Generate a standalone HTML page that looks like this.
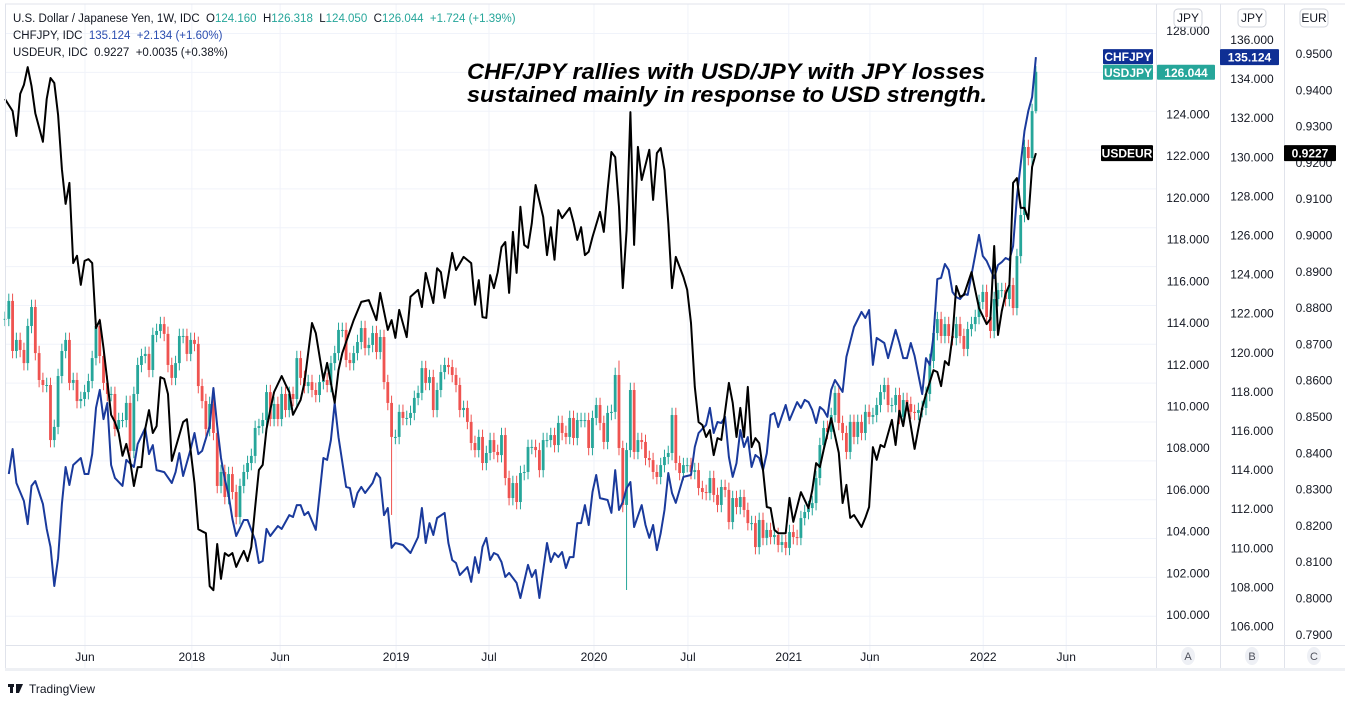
<!DOCTYPE html>
<html><head><meta charset="utf-8">
<style>
html,body{margin:0;padding:0;background:#fff;width:1345px;height:703px;overflow:hidden;font-family:"Liberation Sans",sans-serif}
svg text{font-family:"Liberation Sans",sans-serif}
.pre{white-space:pre}
</style></head>
<body>
<svg id="chart" width="1345" height="703" viewBox="0 0 1345 703" xmlns="http://www.w3.org/2000/svg">
<g id="grid"></g>
<g id="candles"></g>
<g id="lines"></g>
<g id="frame">
<line x1="5" y1="4" x2="1345" y2="4" stroke="#e0e3eb"/>
<line x1="5.5" y1="4" x2="5.5" y2="670" stroke="#e0e3eb"/>
<line x1="1156.5" y1="4" x2="1156.5" y2="670" stroke="#e0e3eb"/>
<line x1="1220.5" y1="4" x2="1220.5" y2="670" stroke="#e0e3eb"/>
<line x1="1284.5" y1="4" x2="1284.5" y2="670" stroke="#e0e3eb"/>
<line x1="5" y1="645.5" x2="1345" y2="645.5" stroke="#e0e3eb"/>
<rect x="5" y="668" width="1340" height="3" fill="#eef0f4"/>
</g>
<g id="axes"></g>
<g id="timeaxis"></g>
<g font-size="11.5">
<text class="pre" x="13" y="22" fill="#131722">U.S. Dollar / Japanese Yen, 1W, IDC  O<tspan fill="#26a69a">124.160</tspan>  H<tspan fill="#26a69a">126.318</tspan>  L<tspan fill="#26a69a">124.050</tspan>  C<tspan fill="#26a69a">126.044  +1.724 (+1.39%)</tspan></text>
<text class="pre" x="13" y="39" fill="#131722">CHFJPY, IDC  <tspan fill="#2a4db0">135.124  +2.134 (+1.60%)</tspan></text>
<text class="pre" x="13" y="56" fill="#131722">USDEUR, IDC  0.9227  +0.0035 (+0.38%)</text>
</g>
<g font-size="22" font-weight="bold" font-style="italic" fill="#000">
<text x="467" y="79" textLength="518" lengthAdjust="spacingAndGlyphs">CHF/JPY rallies with USD/JPY with JPY losses</text>
<text x="467" y="102" textLength="520" lengthAdjust="spacingAndGlyphs">sustained mainly in response to USD strength.</text>
</g>
<g id="labels"></g>
<g>
<rect x="8" y="684" width="6" height="3" fill="#131722"/><rect x="10" y="684" width="3" height="9" fill="#131722"/>
<path d="M16 684 h7 l-4 9 h-3 z" fill="#131722"/>
<text x="29" y="693" font-size="12" fill="#131722">TradingView</text>
</g>
</svg>
<script>
// ---------- data ----------
const closes = [114.2,
115.06,112.66,113.19,112.71,112.08,113.86,114.77,112.56,111.27,111.03,
111.03,108.39,109.02,111.46,112.66,113.19,111.13,111.27,110.26,110.36,
110.69,111.22,112.32,113.86,112.42,111.13,110.60,110.60,108.92,109.35,
109.35,110.17,107.87,110.60,111.99,112.42,112.52,111.75,113.43,113.62,
113.95,113.48,111.99,111.37,112.08,113.38,113.38,112.52,113.19,113.00,
110.98,110.26,108.92,110.12,108.73,106.19,106.86,105.66,106.76,105.90,
104.70,106.19,106.86,107.29,107.63,108.97,109.06,109.35,110.69,109.40,
110.12,109.40,110.60,109.83,110.60,110.36,112.32,
111.37,110.98,111.17,110.79,110.55,111.17,111.27,111.03,112.08,112.56,
113.67,113.67,112.23,112.08,112.56,113.09,113.76,112.80,112.95,113.52,
112.61,113.33,111.17,110.17,108.54,108.54,109.74,109.45,109.45,109.69,
110.41,110.65,111.84,111.13,111.41,109.83,110.79,111.65,111.99,111.89,
111.51,111.03,109.83,109.93,109.26,108.25,107.91,108.54,107.29,107.77,
108.39,107.82,107.67,108.63,106.57,105.61,106.33,105.42,106.81,106.86,
108.06,108.06,107.91,106.95,108.39,108.39,108.63,108.15,109.21,108.73,
108.54,109.45,108.49,109.35,109.35,109.35,108.01,109.45,110.07,109.21,
108.30,109.69,109.74,111.51,108.01,105.28,107.91,110.79,107.82,108.39,
108.30,107.53,107.43,106.86,106.62,107.19,107.58,107.77,109.59,107.29,
106.81,107.19,107.19,106.86,106.95,106.09,105.90,105.85,106.57,105.76,
105.28,106.14,106.00,104.46,105.61,105.18,105.66,105.04,104.41,104.41,
103.26,104.56,103.70,104.08,103.74,103.84,103.36,103.50,103.22,103.98,
103.74,103.70,104.65,104.94,105.13,105.37,106.57,108.15,108.97,108.78,
109.59,110.65,109.21,108.73,107.82,109.26,108.54,109.26,108.73,109.74,
109.50,109.59,110.07,110.69,111.03,110.07,110.07,110.55,109.50,110.31,
110.12,109.74,109.69,109.83,109.93,110.60,112.18,113.52,114.19,113.38,
113.95,113.38,113.28,113.95,113.38,112.76,113.71,113.95,114.29,115.01,
115.49,114.29,113.62,115.15,115.58,115.58,115.15,115.82,114.72,117.21,
119.18,122.44,121.91,124.16,126.044];
const highOverrides = {162:112.2, 272:126.318};
const lowOverrides = {102:104.8, 164:101.2, 272:124.05};

const chfWeeks = [1,2,3,5,6,7,8,10,11,12,13,14,15,16,17,18,20,21,22,23,24,25,26,27,28,29,31,32,34,35,37,38,39,40,42,44,45,46,47,49,50,51,52,54,55,56,57,58,59,60,61,63,64,66,67,68,69,70,72,73,75,76,77,78,79,80,82,84,85,86,87,88,90,91,92,93,94,95,97,98,99,100,101,102,103,105,107,109,110,111,112,113,114,116,117,118,119,120,122,123,124,125,126,127,128,129,130,131,132,133,135,136,138,139,140,141,143,144,145,146,147,148,149,150,151,152,153,154,155,156,157,159,160,161,162,163,164,165,166,168,169,170,171,172,173,174,175,176,177,179,181,182,183,185,186,187,188,189,190,191,192,193,194,195,196,197,198,199,200,201,202,203,204,206,207,209,210,211,212,213,214,215,216,217,218,219,221,222,223,224,226,227,228,229,230,232,233,235,236,237,238,239,240,242,243,244,245,246,247,248,249,250,251,252,253,254,257,258,259,261,262,263,264,265,266,267,269,270,271,272];
const chfValues = [113.80,115.08,113.34,112.42,111.24,113.19,113.44,112.27,110.99,110.07,108.07,109.50,112.27,114.16,113.24,114.26,114.62,113.80,113.80,114.82,117.18,118.10,116.61,117.43,114.26,113.60,113.19,114.52,114.16,115.34,116.15,114.82,115.28,114.00,113.90,113.34,113.90,114.87,113.70,115.08,115.90,114.82,114.98,116.26,118.20,116.26,114.62,113.54,112.73,111.50,110.63,111.45,111.45,110.42,109.25,109.35,110.99,110.63,111.14,110.99,111.70,111.60,112.21,112.21,111.70,111.86,110.94,114.62,114.52,115.54,117.43,115.69,113.14,113.08,112.11,112.83,113.14,112.83,113.34,113.85,113.60,111.70,112.06,110.02,110.27,110.17,109.76,110.58,112.06,110.27,111.29,110.68,111.55,111.81,110.27,109.40,109.25,108.63,109.04,108.28,109.55,108.74,110.07,110.53,109.40,109.76,109.66,109.30,108.53,108.74,108.23,107.46,109.15,108.53,108.89,107.46,110.27,109.30,109.76,109.55,109.81,108.99,109.55,109.55,111.29,111.29,112.21,111.19,112.88,113.75,112.57,112.47,111.81,114.00,111.96,112.37,113.08,113.39,111.09,112.21,111.19,110.53,111.19,109.91,110.78,111.96,113.85,112.83,112.32,113.65,113.75,115.18,115.90,116.31,117.18,115.90,116.46,116.41,116.72,114.67,113.65,114.36,116.05,115.18,115.69,114.16,114.77,114.62,114.00,114.87,116.82,116.92,116.20,117.33,116.56,117.48,117.18,117.59,117.48,117.07,116.41,117.23,117.07,116.72,118.10,118.61,118.00,119.79,120.55,121.32,122.09,121.78,122.19,119.38,120.76,120.50,119.73,121.17,120.50,119.73,119.73,120.50,119.84,117.89,119.73,119.38,120.86,123.77,123.83,124.54,124.24,123.11,122.85,122.75,123.01,122.96,126.03,124.95,124.70,123.83,124.49,124.64,124.85,124.75,125.46,127.97,131.35,132.37,133.08,135.124];

const eurWeeks = [0,2,3,4,5,6,7,8,10,11,12,13,14,15,16,17,18,19,20,21,22,23,24,25,26,27,28,29,30,31,32,33,34,35,36,37,38,39,40,41,42,43,44,46,47,48,49,50,51,52,53,54,55,56,57,58,59,60,61,62,63,64,65,66,67,68,69,70,71,73,74,75,76,78,79,81,82,84,85,87,88,89,92,94,96,98,99,101,102,103,104,106,107,109,110,111,113,114,115,116,118,119,121,123,124,125,126,127,128,129,130,131,132,133,134,135,136,137,138,139,140,142,143,144,145,146,147,149,150,151,152,153,154,155,157,158,159,160,161,162,163,164,165,166,167,168,170,171,172,173,174,175,176,177,179,180,181,182,183,184,185,186,187,188,189,191,192,193,194,195,196,197,198,199,200,201,202,203,204,206,207,208,210,212,213,214,215,216,218,220,221,222,223,224,226,227,228,229,230,231,232,234,235,236,237,238,240,242,243,245,246,247,248,249,250,251,252,253,255,256,257,259,260,261,262,263,264,265,266,267,268,269,270,271,272];
const eurValues = [0.9376,0.9343,0.9274,0.9390,0.9415,0.9464,0.9412,0.9337,0.9258,0.9376,0.9434,0.9420,0.9332,0.9183,0.9087,0.9145,0.8924,0.8944,0.8864,0.8930,0.8935,0.8924,0.8745,0.8767,0.8690,0.8600,0.8506,0.8486,0.8456,0.8393,0.8426,0.8380,0.8310,0.8362,0.8362,0.8467,0.8519,0.8456,0.8475,0.8610,0.8605,0.8563,0.8379,0.8450,0.8486,0.8494,0.8406,0.8318,0.8191,0.8185,0.8180,0.8034,0.8023,0.8150,0.8054,0.8125,0.8117,0.8125,0.8087,0.8110,0.8131,0.8103,0.8142,0.8250,0.8354,0.8368,0.8467,0.8520,0.8569,0.8613,0.8590,0.8569,0.8506,0.8547,0.8594,0.8759,0.8731,0.8602,0.8649,0.8539,0.8629,0.8676,0.8767,0.8817,0.8822,0.8767,0.8842,0.8740,0.8767,0.8718,0.8795,0.8720,0.8831,0.8850,0.8803,0.8897,0.8814,0.8910,0.8899,0.8828,0.8952,0.8905,0.8941,0.8924,0.8809,0.8877,0.8775,0.8773,0.8891,0.8855,0.8899,0.8968,0.8982,0.8842,0.9010,0.8897,0.9079,0.8974,0.8966,0.9034,0.9139,0.9051,0.8946,0.9023,0.8933,0.9070,0.9048,0.9076,0.9037,0.8988,0.9023,0.8946,0.8955,0.8996,0.9065,0.9010,0.9125,0.9230,0.9216,0.9079,0.8855,0.9015,0.9340,0.8974,0.9244,0.9153,0.9236,0.9098,0.9227,0.9241,0.9180,0.9034,0.8855,0.8941,0.8886,0.8850,0.8759,0.8583,0.8486,0.8478,0.8445,0.8464,0.8395,0.8442,0.8437,0.8594,0.8539,0.8445,0.8525,0.8445,0.8583,0.8417,0.8442,0.8428,0.8354,0.8252,0.8249,0.8189,0.8180,0.8180,0.8277,0.8211,0.8293,0.8249,0.8299,0.8373,0.8362,0.8409,0.8497,0.8401,0.8263,0.8313,0.8222,0.8230,0.8197,0.8222,0.8252,0.8417,0.8382,0.8423,0.8417,0.8492,0.8423,0.8517,0.8475,0.8539,0.8412,0.8525,0.8563,0.8629,0.8624,0.8585,0.8654,0.8643,0.8723,0.8861,0.8831,0.8836,0.8899,0.8850,0.8800,0.8756,0.8770,0.8971,0.8726,0.8792,0.8839,0.8864,0.9145,0.9158,0.9076,0.9076,0.9045,0.9189,0.9227];

const ticksA = [128,126,124,122,120,118,116,114,112,110,108,106,104,102,100];
const ticksB = [136,134,132,130,128,126,124,122,120,118,116,114,112,110,108,106];
const ticksC = [0.95,0.94,0.93,0.92,0.91,0.90,0.89,0.88,0.87,0.86,0.85,0.84,0.83,0.82,0.81,0.80,0.79];
const timeLabels = ["Jun","2018","Jun","2019","Jul","2020","Jul","2021","Jun","2022","Jun"];
const timeWeeks = [21.1,49.3,72.6,103.2,127.7,155.4,180.2,206.8,228.2,258.1,280.0];

// ---------- scales ----------
const xW = w => 5 + 3.79*w;
const yA = v => 31 + (128 - v)*20.86;
const yB = v => 40 + (136 - v)*19.55;
const yC = v => 54 + (0.95 - v)*3630;
const NS = "http://www.w3.org/2000/svg";
function mk(tag, attrs, parent){const e=document.createElementNS(NS,tag);for(const k in attrs)e.setAttribute(k,attrs[k]);parent.appendChild(e);return e;}

// grid
const grid = document.getElementById('grid');
for(let i=0;i<16;i++){const y=33.5+38.85*i; if(y>645)break;
  const l=mk('line',{x1:6,x2:1156,y1:y,y2:y,stroke:'#f0f3fa'},grid);
  
  }
timeWeeks.forEach(w=>{const x=xW(w);
  const l=mk('line',{x1:x,x2:x,y1:4,y2:668,stroke:'#f0f3fa'},grid);
  
  });

// candles
const cg = document.getElementById('candles');
for(let i=0;i<closes.length;i++){
  const c=closes[i], o=i>0?closes[i-1]:c;
  const hi = highOverrides[i]!==undefined?highOverrides[i]:Math.max(o,c)+0.35;
  const lo = lowOverrides[i]!==undefined?lowOverrides[i]:Math.min(o,c)-0.35;
  const col = c>=o?'#26a69a':'#ef5350';
  const x=xW(i);
  const g=mk('g',{},cg);
  
  
  mk('line',{x1:x,x2:x,y1:yA(hi),y2:yA(lo),stroke:col,'stroke-width':1},g);
  const t=Math.min(yA(o),yA(c)), h=Math.max(1,Math.abs(yA(o)-yA(c)));
  mk('rect',{x:x-1.4,y:t,width:2.8,height:h,fill:col},g);
}

// lines
const lg=document.getElementById('lines');
const pb=mk('polyline',{points:chfWeeks.map((w,i)=>xW(w).toFixed(1)+','+yB(chfValues[i]).toFixed(1)).join(' '),fill:'none',stroke:'#1a3a9c','stroke-width':2,'stroke-linejoin':'round'},lg);


const pk=mk('polyline',{points:eurWeeks.map((w,i)=>xW(w).toFixed(1)+','+yC(eurValues[i]).toFixed(1)).join(' '),fill:'none',stroke:'#000','stroke-width':2,'stroke-linejoin':'round'},lg);



// axes
const ax=document.getElementById('axes');
function tick(x,y,txt,name){const t=mk('text',{x:x,y:y+4,'font-size':12,fill:'#131722','text-anchor':'middle'},ax);t.textContent=txt;
  
  }
ticksA.forEach(v=>tick(1188,yA(v),v.toFixed(3),'axis-a-tick'));
ticksB.forEach(v=>tick(1252,yB(v),v.toFixed(3),'axis-b-tick'));
ticksC.forEach(v=>tick(1314,yC(v),v.toFixed(4),'axis-c-tick'));
function badge(x,txt,name){const g=mk('g',{},ax);
  
  
  mk('rect',{x:x-14,y:9,width:28,height:18,rx:4,fill:'#fff',stroke:'#d1d4dc'},g);
  const t=mk('text',{x:x,y:22,'font-size':12,fill:'#131722','text-anchor':'middle'},g);t.textContent=txt;}
badge(1188,'JPY','axis-a-currency');badge(1252,'JPY','axis-b-currency');badge(1314,'EUR','axis-c-currency');

// time axis
const ta=document.getElementById('timeaxis');
timeLabels.forEach((s,i)=>{const t=mk('text',{x:xW(timeWeeks[i]),y:661,'font-size':12,fill:'#131722','text-anchor':'middle'},ta);t.textContent=s;
  
  });
[['A',1188],['B',1252],['C',1314]].forEach(([s,x])=>{const g=mk('g',{},ta);
  
  
  mk('ellipse',{cx:x,cy:656,rx:7,ry:9,fill:'#eef0f5'},g);
  const t=mk('text',{x:x,y:660,'font-size':11,fill:'#50535e','text-anchor':'middle'},g);t.textContent=s;});

// price labels
const lb=document.getElementById('labels');
function plabel(x,y,w,h,bg,txt,name){const g=mk('g',{},lb);
  
  
  mk('rect',{x:x,y:y,width:w,height:h,fill:bg,rx:1},g);
  const t=mk('text',{x:x+w/2,y:y+h/2+4.5,'font-size':12,'font-weight':'bold',fill:'#fff','text-anchor':'middle'},g);t.textContent=txt;}
const lastC=closes[closes.length-1], lastB=chfValues[chfValues.length-1], lastE=eurValues[eurValues.length-1];
plabel(1103,yB(lastB)-8,50,15,'#0f2f94','CHFJPY','chfjpy-name-label');
plabel(1103,yA(lastC)-7,50,15,'#26a69a','USDJPY','usdjpy-name-label');
plabel(1157,yA(lastC)-7,58,15,'#26a69a',lastC.toFixed(3),'usdjpy-price-label');
plabel(1220,yB(lastB)-8,59,16,'#0f2f94',lastB.toFixed(3),'chfjpy-price-label');
plabel(1101,yC(lastE)-8,52,16,'#000','USDEUR','usdeur-name-label');
plabel(1284,yC(lastE)-8,52,16,'#000',lastE.toFixed(4),'usdeur-price-label');
</script>
</body></html>
